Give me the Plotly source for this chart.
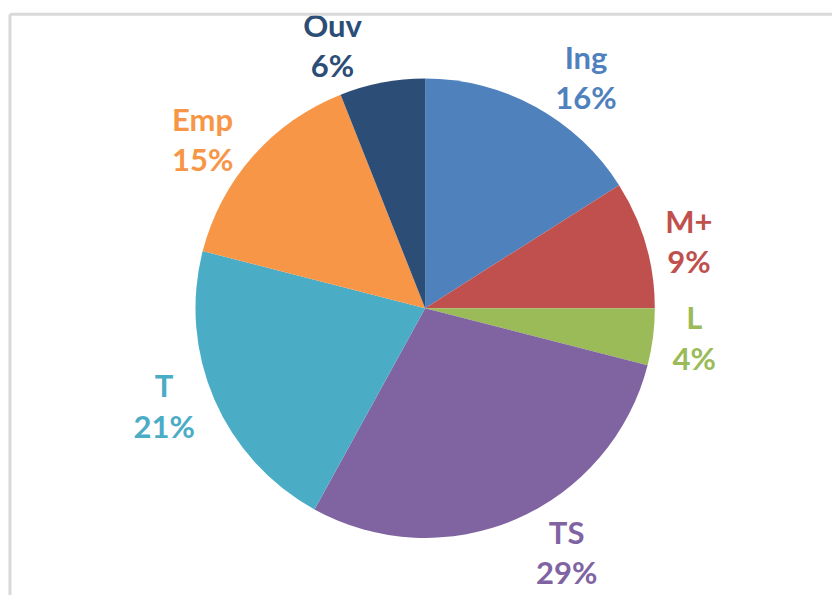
import plotly.graph_objects as go

categories = ["Ing", "M+", "L", "TS", "T", "Emp", "Ouv"]
values = [16, 9, 4, 29, 21, 15, 6]
colors = ["#4F81BD", "#C0504D", "#9BBB59", "#8064A2", "#4BACC6", "#F79646", "#2C4D75"]

fig = go.Figure(go.Pie(
    labels=categories,
    values=values,
    sort=False,
    direction="clockwise",
    rotation=0,
    marker=dict(colors=colors, line=dict(width=0)),
    texttemplate="%{label}<br>%{percent:.0%}",
    textposition="outside",
    outsidetextfont=dict(family="Lato", size=31, color=colors, weight="bold"),
    showlegend=False,
    automargin=False,
    domain=dict(x=[0.234, 0.788], y=[0.096, 0.868]),
))

fig.update_layout(
    width=832, height=595,
    margin=dict(l=0, r=0, t=0, b=0, pad=0, autoexpand=False),
    paper_bgcolor="white",
    shapes=[
        dict(type="line", xref="paper", yref="paper", x0=0.012, x1=1.0, y0=0.976, y1=0.976,
             line=dict(color="#D9D9D9", width=3)),
        dict(type="line", xref="paper", yref="paper", x0=0.012, x1=0.012, y0=0.0, y1=0.976,
             line=dict(color="#D9D9D9", width=3)),
    ],
)

fig.write_html("out.html")
